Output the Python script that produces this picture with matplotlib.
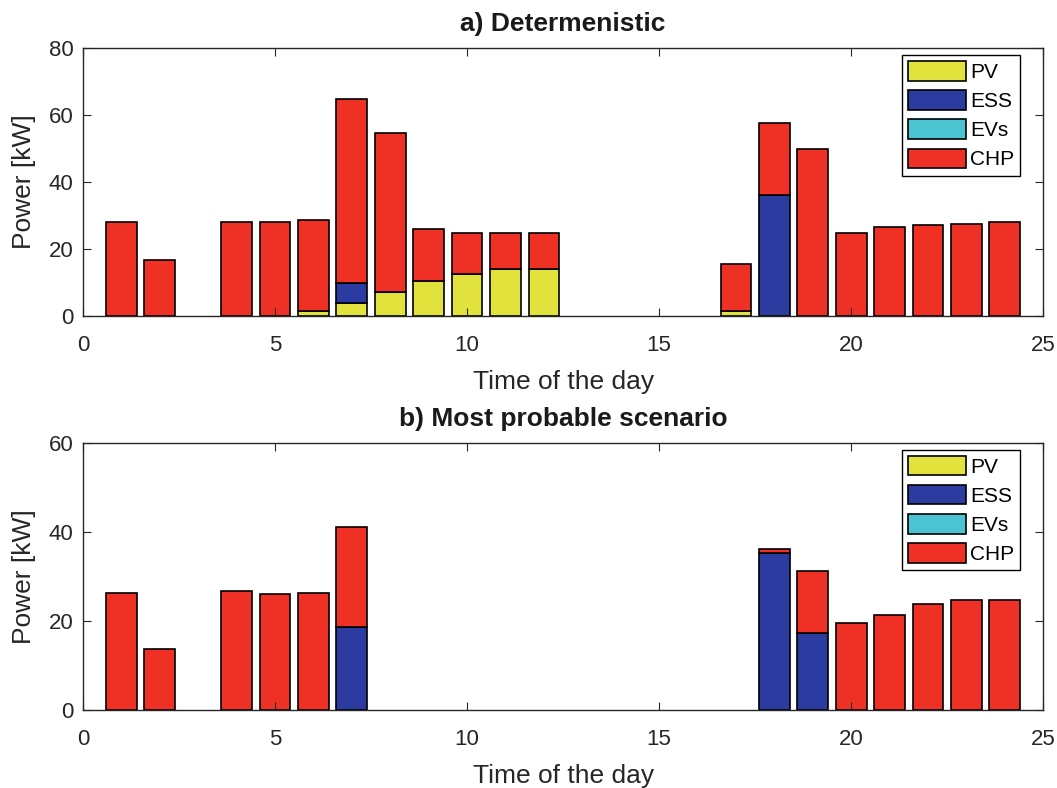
import matplotlib
matplotlib.use('Agg')
import matplotlib.pyplot as plt
import numpy as np

plt.rcParams['font.family'] = ['Liberation Sans', 'DejaVu Sans']

hours = np.arange(1, 25)
sources = ['PV', 'ESS', 'EVs', 'CHP']
colors = ['#e2e23c', '#2b3b9f', '#4cc3d0', '#ee3124']

# a) deterministic case, kW per hour
pv_a = [0, 0, 0, 0, 0, 1.4, 3.9, 7.1, 10.5, 12.5, 14.0, 14.0,
        0, 0, 0, 0, 1.4, 0, 0, 0, 0, 0, 0, 0]
ess_a = [0, 0, 0, 0, 0, 0, 5.9, 0, 0, 0, 0, 0,
         0, 0, 0, 0, 0, 36.0, 0, 0, 0, 0, 0, 0]
evs_a = [0] * 24
chp_a = [28.2, 16.6, 0, 28.2, 28.2, 27.3, 55.0, 47.6, 15.4, 12.2, 10.7, 10.7,
         0, 0, 0, 0, 14.0, 21.6, 50.0, 24.7, 26.5, 27.2, 27.6, 28.0]

# b) most probable scenario
pv_b = [0] * 24
ess_b = [0, 0, 0, 0, 0, 0, 18.6, 0, 0, 0, 0, 0,
         0, 0, 0, 0, 0, 35.2, 17.4, 0, 0, 0, 0, 0]
evs_b = [0] * 24
chp_b = [26.3, 13.6, 0, 26.7, 26.0, 26.3, 22.4, 0, 0, 0, 0, 0,
         0, 0, 0, 0, 0, 1.0, 13.8, 19.6, 21.4, 23.9, 24.6, 24.6]

panels = [
    ('a) Determenistic', [pv_a, ess_a, evs_a, chp_a], 80,
     [0.0785, 0.599, 0.9085, 0.340]),
    ('b) Most probable scenario', [pv_b, ess_b, evs_b, chp_b], 60,
     [0.0785, 0.099, 0.9085, 0.339]),
]

fig = plt.figure(figsize=(10.57, 7.88), dpi=100)

for title, series, ymax, pos in panels:
    ax = fig.add_axes(pos)
    bottom = np.zeros(24)
    for name, vals, c in zip(sources, series, colors):
        vals = np.array(vals, dtype=float)
        nz = vals > 0
        # draw only non-empty segments so no stray lines sit on the baseline
        ax.bar(hours[nz], vals[nz], width=0.8, bottom=bottom[nz], color=c,
               edgecolor='black', linewidth=1.2)
        ax.bar([np.nan], [0], color=c, edgecolor='black', linewidth=1.2,
               label=name)
        bottom += vals
    ax.set_xlim(0, 25)
    ax.set_ylim(0, ymax)
    ax.set_xticks([0, 5, 10, 15, 20, 25])
    ax.set_yticks(np.arange(0, ymax + 1, 20))
    ax.tick_params(direction='in', top=True, right=True, labelsize=16,
                   length=6, colors='#262626')
    ax.tick_params(axis='x', pad=14)
    ax.tick_params(axis='y', pad=7)
    for s in ax.spines.values():
        s.set_linewidth(1.0)
        s.set_color('#262626')
    ax.set_title(title, fontsize=19, fontweight='bold', pad=12,
                 color='#1a1a1a')
    ax.set_xlabel('Time of the day', fontsize=19, labelpad=10,
                  color='#262626')
    ax.set_ylabel('Power [kW]', fontsize=19, color='#262626')
    ax.yaxis.set_label_coords(-0.049, 0.5)
    leg = ax.legend(loc='upper right', fontsize=15, frameon=True,
                    fancybox=False, edgecolor='black', framealpha=1,
                    handlelength=2.75, handleheight=1.05, handletextpad=0.2,
                    labelspacing=0.4, borderpad=0.3, borderaxespad=0,
                    bbox_to_anchor=(0.976, 0.974))
    leg.get_frame().set_linewidth(1.0)

fig.savefig('out.png', dpi=100)
